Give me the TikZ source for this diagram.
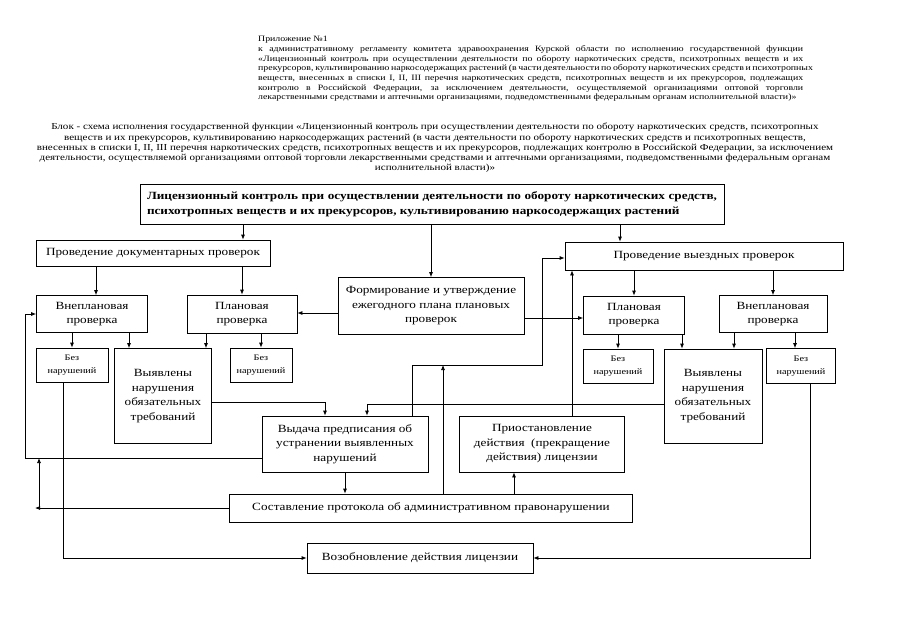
\documentclass[tikz,border=0pt]{standalone}
\usepackage{fontspec}
\setmainfont{Liberation Serif}[FakeStretch=1.2]
\usetikzlibrary{arrows.meta,calc}

\begin{document}
\begin{tikzpicture}[x=1pt,y=-1pt,
    box/.style={draw,line width=0.75pt,align=center,inner sep=1pt,
      font=\fontsize{11}{14.5}\selectfont},
    smallbox/.style={box,font=\fontsize{8.5}{13}\selectfont},
    arr/.style={-{Latex[length=5pt,width=4pt]},line width=0.75pt}]
  \useasboundingbox (0,0) rectangle (905,640);

  % header texts
  \node[anchor=north west,inner sep=0pt,align=left,
    font=\fontsize{8.2}{9.7}\selectfont] (annex) at (258,36)
    {Приложение №1\\
     \makebox[545pt][s]{к административному регламенту комитета здравоохранения Курской области по исполнению государственной функции}\\
     \makebox[545pt][s]{«Лицензионный контроль при осуществлении деятельности по обороту наркотических средств, психотропных веществ и их}\\
     \makebox[545pt][s]{прекурсоров, культивированию наркосодержащих растений (в части деятельности по обороту наркотических средств и психотропных}\\
     \makebox[545pt][s]{веществ, внесенных в списки I, II, III перечня наркотических средств, психотропных веществ и их прекурсоров, подлежащих}\\
     \makebox[545pt][s]{контролю в Российской Федерации, за исключением деятельности, осуществляемой организациями оптовой торговли}\\
     лекарственными средствами и аптечными организациями, подведомственными федеральным органам исполнительной власти)»};
  \node[anchor=north,inner sep=0pt,align=center,
    font=\fontsize{9.2}{10.3}\selectfont] (scheme) at (435,123)
    {Блок - схема исполнения государственной функции «Лицензионный контроль при осуществлении деятельности по обороту наркотических средств, психотропных\\
     веществ и их прекурсоров, культивированию наркосодержащих растений (в части деятельности по обороту наркотических средств и психотропных веществ,\\
     внесенных в списки I, II, III перечня наркотических средств, психотропных веществ и их прекурсоров, подлежащих контролю в Российской Федерации, за исключением\\
     деятельности, осуществляемой организациями оптовой торговли лекарственными средствами и аптечными организациями, подведомственными федеральным органам\\
     исполнительной власти)»};

  % boxes
  \node[box,font=\bfseries\fontsize{11}{15.5}\selectfont,
    minimum width=584pt,minimum height=40pt] (lic) at (432,204)
    {\makebox[570pt][s]{Лицензионный контроль при осуществлении деятельности по обороту наркотических средств,}\\
     \makebox[570pt][l]{психотропных веществ и их прекурсоров, культивированию наркосодержащих растений}};
  \node[box,minimum width=234pt,minimum height=26pt] (doc) at (153,253)
    {Проведение документарных проверок};
  \node[box,minimum width=278pt,minimum height=28pt] (visit) at (704,256)
    {Проведение выездных проверок};
  \node[box,minimum width=186pt,minimum height=57pt] (plan) at (431,306)
    {Формирование и утверждение\\ежегодного плана плановых\\проверок};
  \node[box,minimum width=111pt,minimum height=37pt] (unschL) at (92,314)
    {Внеплановая\\проверка};
  \node[box,minimum width=110pt,minimum height=38pt] (schL) at (242,314)
    {Плановая\\проверка};
  \node[box,minimum width=101pt,minimum height=38pt] (schR) at (634,315)
    {Плановая\\проверка};
  \node[box,minimum width=108pt,minimum height=37pt] (unschR) at (773,314)
    {Внеплановая\\проверка};

  \node[smallbox,minimum width=72pt,minimum height=34pt] (okL) at (72,365)
    {Без\\нарушений};
  \node[box,minimum width=97pt,minimum height=95pt] (violL) at (163,396)
    {Выявлены\\нарушения\\обязательных\\требований};
  \node[smallbox,minimum width=62pt,minimum height=34pt] (okML) at (261,365)
    {Без\\нарушений};
  \node[smallbox,minimum width=70pt,minimum height=34pt] (okMR) at (618,366)
    {Без\\нарушений};
  \node[box,minimum width=98pt,minimum height=94pt] (violR) at (713,396)
    {Выявлены\\нарушения\\обязательных\\требований};
  \node[smallbox,minimum width=69pt,minimum height=35pt] (okR) at (801,366)
    {Без\\нарушений};

  \node[box,minimum width=166pt,minimum height=56pt] (order) at (345,444)
    {Выдача предписания об\\устранении выявленных\\нарушений};
  \node[box,minimum width=165pt,minimum height=56pt] (suspend) at (542,444)
    {Приостановление\\действия\ \ (прекращение\\действия) лицензии};
  \node[box,minimum width=403pt,minimum height=28pt] (report) at (431,508)
    {Составление протокола об административном правонарушении};
  \node[box,minimum width=226pt,minimum height=30pt] (renew) at (420,558)
    {Возобновление действия лицензии};

  % connector columns and bends
  \foreach \n/\x/\y in {a/243/0,b/620/0,c/96/0,d/129/0,e/206/0,f/682/0,
      g/734/0,h/795/0,i/514/0,j/63/0,k/810/0,rl/0/313,rr/0/318}
    \coordinate (p\n) at (\x,\y);
  \coordinate (bendA) at (412,365);
  \coordinate (bendB) at (542,258);
  \coordinate (bendC) at (443,365);
  \coordinate (bendD) at (572,0);
  \coordinate (bendE) at (325,402);
  \coordinate (bendF) at (367,404);
  \coordinate (bendG) at (25,458);
  \coordinate (bendH) at (39,508);

  % connectors
  \draw[arr] (lic.south -| pa) -- (doc.north -| pa);
  \draw[arr] (lic.south -| plan.north) -- (plan.north);
  \draw[arr] (lic.south -| pb) -- (visit.north -| pb);
  \draw[arr] (doc.south -| pc) -- (unschL.north -| pc);
  \draw[arr] (doc.south -| schL.north) -- (schL.north);
  \draw[arr] (visit.south -| schR.north) -- (schR.north);
  \draw[arr] (visit.south -| unschR.north) -- (unschR.north);
  \draw[arr] (plan.west |- prl) -- (schL.east |- prl);
  \draw[arr] (plan.east |- prr) -- (schR.west |- prr);

  \draw[arr] (unschL.south -| okL.north) -- (okL.north);
  \draw[arr] (unschL.south -| pd) -- (violL.north -| pd);
  \draw[arr] (schL.south -| pe) -- (violL.north -| pe);
  \draw[arr] (schL.south -| okML.north) -- (okML.north);
  \draw[arr] (schR.south -| okMR.north) -- (okMR.north);
  \draw[arr] (schR.south -| pf) -- (violR.north -| pf);
  \draw[arr] (unschR.south -| pg) -- (violR.north -| pg);
  \draw[arr] (unschR.south -| ph) -- (okR.north -| ph);

  \draw[arr] (violL.east |- bendE) -| (order.north -| bendE);
  \draw[arr] (violR.west |- bendF) -| (order.north -| bendF);
  \draw[arr] (order.north -| bendA) -- (bendA) -| (bendB) -- (visit.west |- bendB);
  \draw[arr] (report.north -| bendC) -- (bendC);
  \draw[arr] (suspend.north -| bendD) -- (visit.south -| bendD);
  \draw[arr] (order.south) -- (order.south |- report.north);
  \draw[arr] (report.north -| pi) -- (suspend.south -| pi);
  \draw[arr] (order.west |- bendG) -- (bendG) |- (unschL.west);
  \draw[arr] (report.west) -- ([xshift=-4pt]bendH);
  \draw[arr] (bendH) -- (bendH |- bendG);
  \draw[arr] (okL.south -| pj) |- (renew.west);
  \draw[arr] (okR.south -| pk) |- (renew.east);
\end{tikzpicture}
\end{document}
